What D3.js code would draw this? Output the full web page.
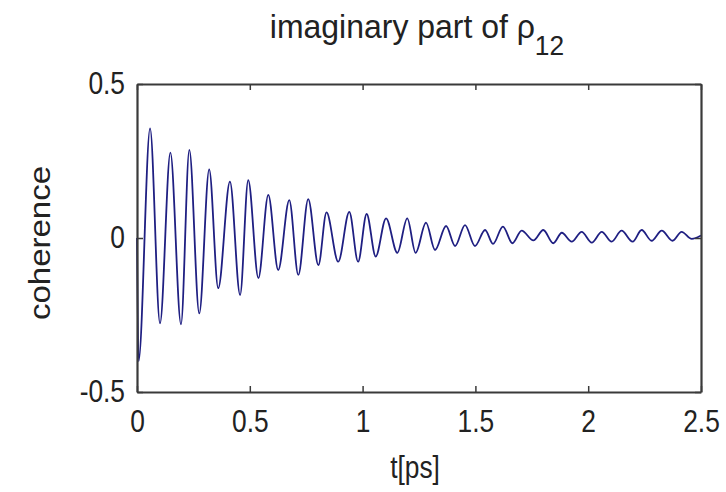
<!DOCTYPE html>
<html>
<head>
<meta charset="utf-8">
<script src="https://cdn.jsdelivr.net/npm/d3@7"></script>
<style>
  body { margin: 0; background: #fff; }
  text { font-family: "Liberation Sans", Arial, sans-serif; fill: #222; }
</style>
</head>
<body>
<div class="wrapper"></div>
<script>
// extrema of the trace (t in ps, coherence)
const times = [0, 0.007, 0.058, 0.102, 0.148, 0.195, 0.232, 0.276, 0.320, 0.360,
  0.412, 0.457, 0.493, 0.538, 0.582, 0.626, 0.675, 0.715, 0.759, 0.804,
  0.840, 0.892, 0.941, 0.980, 1.018, 1.058, 1.104, 1.154, 1.198, 1.235,
  1.281, 1.321, 1.370, 1.410, 1.454, 1.498, 1.543, 1.578, 1.622, 1.664,
  1.705, 1.757, 1.801, 1.845, 1.883, 1.927, 1.971, 2.016, 2.060, 2.104,
  2.148, 2.197, 2.237, 2.281, 2.326, 2.374, 2.414, 2.459, 2.5]
const values = [0, -0.40, 0.356, -0.277, 0.277, -0.280, 0.286, -0.245, 0.223, -0.163,
  0.183, -0.185, 0.188, -0.130, 0.140, -0.104, 0.123, -0.120, 0.126, -0.088,
  0.083, -0.077, 0.085, -0.077, 0.078, -0.060, 0.064, -0.048, 0.064, -0.048,
  0.050, -0.039, 0.039, -0.026, 0.042, -0.026, 0.026, -0.019, 0.037, -0.017,
  0.024, -0.008, 0.026, -0.017, 0.017, -0.012, 0.020, -0.015, 0.020, -0.012,
  0.024, -0.012, 0.026, -0.009, 0.024, -0.009, 0.020, -0.003, 0.008]

const xTicks = [0, 0.5, 1, 1.5, 2, 2.5]
const yTicks = [-0.5, 0, 0.5]

const width = 726, height = 492
const box = { left: 137, right: 701, top: 84, bottom: 392 }
const tickFont = 31, squeeze = 0.85

const svg = d3.select('.wrapper')
  .append('svg')
  .attr('width', width)
  .attr('height', height)

svg.append('rect').attr('width', width).attr('height', height).attr('fill', '#fff')

const x = d3.scaleLinear().domain([0, 2.5]).range([box.left, box.right])
const y = d3.scaleLinear().domain([-0.5, 0.5]).range([box.bottom, box.top])

// trace
const line = d3.line()
  .x((d, i) => x(times[i]))
  .y(d => y(d))
  .curve(d3.curveMonotoneX)

svg.append('path')
  .attr('d', line(values))
  .attr('fill', 'none')
  .attr('stroke', '#1f1f82')
  .attr('stroke-width', 1.8)

// axes (inner ticks on all four sides)
const fmt = d => String(d)

const bottom = svg.append('g')
  .attr('transform', `translate(0, ${box.bottom})`)
  .call(d3.axisBottom(x).tickValues(xTicks).tickFormat(fmt).tickSize(-6).tickSizeOuter(0).tickPadding(18))

const left = svg.append('g')
  .attr('transform', `translate(${box.left}, 0)`)
  .call(d3.axisLeft(y).tickValues(yTicks).tickFormat(fmt).tickSize(-6).tickSizeOuter(0).tickPadding(12))

svg.append('g')
  .attr('transform', `translate(0, ${box.top})`)
  .call(d3.axisTop(x).tickValues(xTicks).tickFormat('').tickSize(-6).tickSizeOuter(0))

svg.append('g')
  .attr('transform', `translate(${box.right}, 0)`)
  .call(d3.axisRight(y).tickValues(yTicks).tickFormat('').tickSize(-6).tickSizeOuter(0))

svg.selectAll('.domain').attr('stroke', '#3a3a3a').attr('stroke-width', 2.2)
svg.selectAll('.tick line').attr('stroke', '#3a3a3a').attr('stroke-width', 1.5)

svg.selectAll('.tick text')
  .attr('font-size', tickFont)
  .attr('font-family', '"Liberation Sans", Arial, sans-serif')
  .attr('fill', '#222')

bottom.selectAll('.tick text').attr('transform', `scale(${squeeze}, 1)`)
left.selectAll('.tick text')
  .attr('x', -12 / squeeze)
  .attr('transform', `scale(${squeeze}, 1)`)

// axis labels
svg.append('text')
  .attr('transform', `translate(415, 478) scale(${squeeze}, 1)`)
  .attr('text-anchor', 'middle')
  .attr('font-size', tickFont)
  .text('t[ps]')

svg.append('text')
  .attr('transform', `translate(50, 243) rotate(-90) scale(1.1, 1)`)
  .attr('text-anchor', 'middle')
  .attr('font-size', 30)
  .text('coherence')

// title with subscript
const title = svg.append('text')
  .attr('transform', `translate(417, 38) scale(0.94, 1)`)
  .attr('text-anchor', 'middle')
  .attr('font-size', 34)

title.append('tspan').text('imaginary part of ρ')
title.append('tspan').attr('font-size', 28).attr('dy', 17).text('12')
</script>
</body>
</html>
